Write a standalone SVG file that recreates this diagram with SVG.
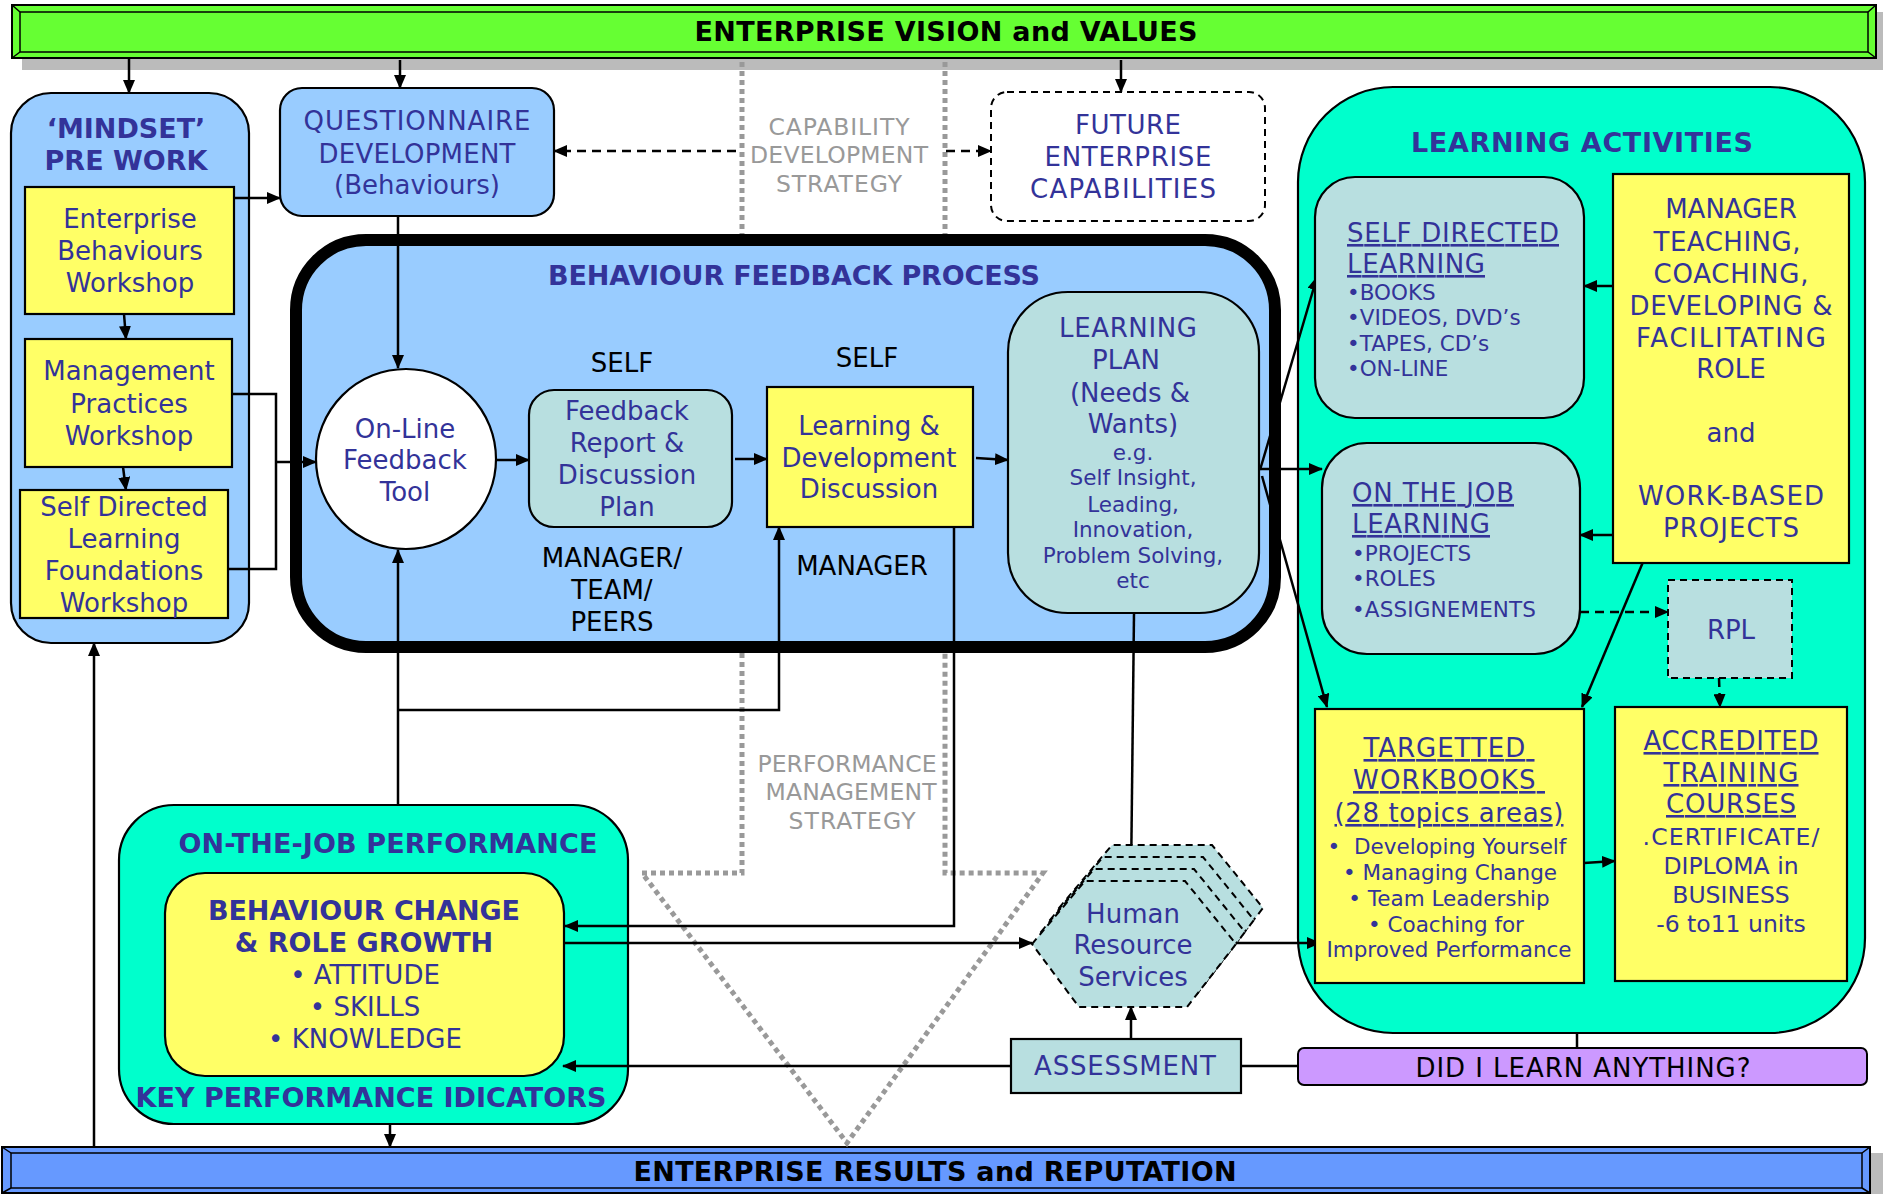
<svg xmlns="http://www.w3.org/2000/svg" width="1883" height="1194" viewBox="0 0 1883 1194">
<style>
text{font-family:"DejaVu Sans",Verdana,sans-serif;font-size:26px;fill:#333399;text-anchor:middle}
.b{font-weight:bold;font-size:27px}
.s{font-size:21.5px}
.m{font-size:23.5px}
.k{fill:#000}
.g{fill:#999;font-size:23.5px}
.l{text-anchor:start}
.u{text-decoration:underline}
.pre{white-space:pre}
.c{stroke:#000;stroke-width:2.5;fill:none}
.d{stroke-dasharray:9 6}
.dot{stroke:#999;stroke-width:5;stroke-dasharray:5 4;fill:none}
.box{stroke:#000;stroke-width:2.2}
.blue{fill:#99CCFF}
.yel{fill:#FFFF66}
.teal{fill:#B8DFE0}
.aqua{fill:#00FFCC}
.bev{fill:none;stroke:#000;stroke-width:1.5}
</style>
<defs>
<marker id="a" viewBox="0 0 14 12" refX="13" refY="6" markerWidth="14" markerHeight="12" orient="auto" markerUnits="userSpaceOnUse"><path d="M0,0L14,6L0,12z"/></marker>
<polygon id="hex" points="1032,944 1085,881 1185,881 1236,944 1187,1007 1079,1007"/>
</defs>
<rect width="1883" height="1194" fill="#fff"/>

<g id="vision-banner">
<rect x="22" y="12" width="1861" height="58" fill="#BBBBBB"/>
<rect x="12" y="5" width="1864" height="53" fill="#66FF33" stroke="#000" stroke-width="2"/>
<rect x="20" y="12" width="1848" height="40" class="bev"/>
<path d="M12,5L20,12M1876,5L1868,12M12,58L20,52M1876,58L1868,52" class="bev"/>
<text x="946" y="41" class="b k" textLength="503">ENTERPRISE VISION and VALUES</text>
</g>

<g id="results-banner">
<rect x="10" y="1153" width="1873" height="41" fill="#BBBBBB"/>
<rect x="2" y="1147" width="1868" height="46" fill="#6699FF" stroke="#000" stroke-width="2"/>
<rect x="11" y="1153" width="1851" height="35" class="bev"/>
<path d="M2,1147L11,1153M1870,1147L1862,1153M2,1193L11,1188M1870,1193L1862,1188" class="bev"/>
<text x="935" y="1181" class="b k" textLength="603">ENTERPRISE RESULTS and REPUTATION</text>
</g>

<g id="capability-strategy">
<path d="M742,62V234M945,62V234" class="dot"/>
<text x="839" y="135" class="g" textLength="141">CAPABILITY</text>
<text x="839" y="163" class="g" textLength="178">DEVELOPMENT</text>
<text x="839" y="192" class="g" textLength="126">STRATEGY</text>
</g>

<g id="performance-strategy">
<path d="M742,653V873H642L847,1143L1043,873H945V653" class="dot"/>
<text x="847" y="772" class="g" textLength="179">PERFORMANCE</text>
<text x="851" y="800" class="g" textLength="171">MANAGEMENT</text>
<text x="852" y="829" class="g" textLength="127">STRATEGY</text>
</g>

<g id="mindset">
<rect x="11" y="93" width="238" height="550" rx="40" class="box blue"/>
<text x="126" y="138" class="b">‘MINDSET’</text>
<text x="126" y="170" class="b">PRE WORK</text>
</g>

<g id="behaviour-feedback-process">
<rect x="296" y="240" width="979" height="407" rx="70" fill="#99CCFF" stroke="#000" stroke-width="12"/>
<text x="548" y="285" class="b l" textLength="492">BEHAVIOUR FEEDBACK PROCESS</text>
<text x="622" y="372" class="k">SELF</text>
<text x="867" y="367" class="k">SELF</text>
<text x="612" y="567" class="k">MANAGER/</text>
<text x="612" y="599" class="k">TEAM/</text>
<text x="612" y="631" class="k">PEERS</text>
<text x="862" y="575" class="k">MANAGER</text>
</g>

<g id="learning-activities">
<rect x="1298" y="87" width="567" height="946" rx="95" class="box aqua"/>
<text x="1582" y="152" class="b" textLength="342">LEARNING ACTIVITIES</text>
</g>

<g id="on-the-job-performance">
<rect x="119" y="805" width="509" height="319" rx="55" class="box aqua"/>
<text x="388" y="853" class="b" textLength="419">ON-THE-JOB PERFORMANCE</text>
<text x="371" y="1107" class="b" textLength="471">KEY PERFORMANCE IDICATORS</text>
</g>

<g id="connectors">
<path d="M129,58V93" class="c" marker-end="url(#a)"/>
<path d="M400,60V88" class="c" marker-end="url(#a)"/>
<path d="M1121,60V92" class="c" marker-end="url(#a)"/>
<path d="M234,198H280" class="c" marker-end="url(#a)"/>
<path d="M124,314L126,339" class="c" marker-end="url(#a)"/>
<path d="M123,467L126,490" class="c" marker-end="url(#a)"/>
<path d="M232,394H276V569H228" class="c" stroke-width="2"/>
<path d="M276,462H316" class="c" marker-end="url(#a)"/>
<path d="M398,216V368" class="c" marker-end="url(#a)"/>
<path d="M496,460H529" class="c" marker-end="url(#a)"/>
<path d="M735,459H767" class="c" marker-end="url(#a)"/>
<path d="M976,458L1008,460" class="c" marker-end="url(#a)"/>
<path d="M398,805V550" class="c" marker-end="url(#a)"/>
<path d="M398,710H779V527" class="c" marker-end="url(#a)"/>
<path d="M954,527V926H565" class="c" marker-end="url(#a)"/>
<path d="M564,943H1032" class="c" marker-end="url(#a)"/>
<path d="M1134,613L1131,881" class="c" marker-end="url(#a)"/>
<path d="M1236,943H1320" class="c" marker-end="url(#a)"/>
<path d="M1131,1039V1007" class="c" marker-end="url(#a)"/>
<path d="M1011,1066H563" class="c" marker-end="url(#a)"/>
<path d="M1241,1066H1298" class="c"/>
<path d="M1577,1033V1048" class="c" stroke-width="2"/>
<path d="M1260,470L1317,277" class="c" marker-end="url(#a)"/>
<path d="M1260,469H1322" class="c" marker-end="url(#a)"/>
<path d="M1262,476L1327,707" class="c" marker-end="url(#a)"/>
<path d="M1613,286H1584" class="c" marker-end="url(#a)"/>
<path d="M1613,535H1580" class="c" marker-end="url(#a)"/>
<path d="M1643,562L1582,707" class="c" marker-end="url(#a)"/>
<path d="M1580,612H1668" class="c d" marker-end="url(#a)"/>
<path d="M1719,678L1720,707" class="c d" marker-end="url(#a)"/>
<path d="M1584,863L1615,861" class="c" marker-end="url(#a)"/>
<path d="M736,151H554" class="c d" marker-end="url(#a)"/>
<path d="M946,151H991" class="c d" marker-end="url(#a)"/>
<path d="M390,1124V1147" class="c" marker-end="url(#a)"/>
<path d="M94,1147V643" class="c" marker-end="url(#a)"/>
</g>

<g id="enterprise-behaviours-workshop">
<rect x="25" y="187" width="209" height="127" class="box yel"/>
<text x="130" y="228">Enterprise</text>
<text x="130" y="260">Behaviours</text>
<text x="130" y="292">Workshop</text>
</g>

<g id="management-practices-workshop">
<rect x="25" y="339" width="207" height="128" class="box yel"/>
<text x="129" y="380">Management</text>
<text x="129" y="413">Practices</text>
<text x="129" y="445">Workshop</text>
</g>

<g id="self-directed-learning-foundations">
<rect x="20" y="490" width="208" height="128" class="box yel"/>
<text x="124" y="516">Self Directed</text>
<text x="124" y="548">Learning</text>
<text x="124" y="580">Foundations</text>
<text x="124" y="612">Workshop</text>
</g>

<g id="questionnaire-development">
<rect x="280" y="88" width="274" height="128" rx="22" class="box blue"/>
<text x="417" y="130" textLength="227">QUESTIONNAIRE</text>
<text x="417" y="163" textLength="197">DEVELOPMENT</text>
<text x="417" y="194">(Behaviours)</text>
</g>

<g id="future-enterprise-capabilities">
<rect x="991" y="92" width="274" height="129" rx="16" fill="#fff" stroke="#000" stroke-width="2" stroke-dasharray="7 5"/>
<text x="1128" y="134" textLength="106">FUTURE</text>
<text x="1128" y="166" textLength="167">ENTERPRISE</text>
<text x="1123" y="198" textLength="186">CAPABILITIES</text>
</g>

<g id="online-feedback-tool">
<circle cx="406" cy="459" r="90" fill="#fff" stroke="#000" stroke-width="2.2"/>
<text x="405" y="438">On-Line</text>
<text x="405" y="469">Feedback</text>
<text x="405" y="501">Tool</text>
</g>

<g id="feedback-report">
<rect x="529" y="390" width="203" height="137" rx="25" class="box teal"/>
<text x="627" y="420">Feedback</text>
<text x="627" y="452">Report &amp;</text>
<text x="627" y="484">Discussion</text>
<text x="627" y="516">Plan</text>
</g>

<g id="learning-development-discussion">
<rect x="767" y="387" width="206" height="140" class="box yel"/>
<text x="869" y="435">Learning &amp;</text>
<text x="869" y="467">Development</text>
<text x="869" y="498">Discussion</text>
</g>

<g id="learning-plan">
<rect x="1008" y="292" width="251" height="321" rx="60" class="box teal"/>
<text x="1128" y="337" textLength="138">LEARNING</text>
<text x="1126" y="369">PLAN</text>
<text x="1130" y="402">(Needs &amp;</text>
<text x="1133" y="433">Wants)</text>
<text x="1133" y="460" class="s">e.g.</text>
<text x="1133" y="485" class="s">Self Insight,</text>
<text x="1133" y="512" class="s">Leading,</text>
<text x="1133" y="537" class="s">Innovation,</text>
<text x="1133" y="563" class="s">Problem Solving,</text>
<text x="1133" y="588" class="s">etc</text>
</g>

<g id="self-directed-learning">
<rect x="1315" y="177" width="269" height="241" rx="40" class="box teal"/>
<text x="1347" y="242" class="l u" textLength="212">SELF DIRECTED</text>
<text x="1347" y="273" class="l u" textLength="138">LEARNING</text>
<text x="1347" y="300" class="l s">•BOOKS</text>
<text x="1347" y="325" class="l s">•VIDEOS, DVD’s</text>
<text x="1347" y="351" class="l s">•TAPES, CD’s</text>
<text x="1347" y="376" class="l s">•ON-LINE</text>
</g>

<g id="on-the-job-learning">
<rect x="1322" y="443" width="258" height="211" rx="45" class="box teal"/>
<text x="1352" y="502" class="l u" textLength="162">ON THE JOB</text>
<text x="1352" y="533" class="l u" textLength="138">LEARNING</text>
<text x="1352" y="561" class="l s">•PROJECTS</text>
<text x="1352" y="586" class="l s">•ROLES</text>
<text x="1352" y="617" class="l s" textLength="184">•ASSIGNEMENTS</text>
</g>

<g id="manager-role">
<rect x="1613" y="174" width="236" height="389" class="box yel"/>
<text x="1731" y="218">MANAGER</text>
<text x="1727" y="251" textLength="147">TEACHING,</text>
<text x="1731" y="283" textLength="155">COACHING,</text>
<text x="1731" y="315" textLength="203">DEVELOPING &amp;</text>
<text x="1731" y="347" textLength="190">FACILITATING</text>
<text x="1731" y="378">ROLE</text>
<text x="1731" y="442">and</text>
<text x="1731" y="505" textLength="186">WORK-BASED</text>
<text x="1731" y="537" textLength="136">PROJECTS</text>
</g>

<g id="rpl">
<rect x="1668" y="580" width="124" height="98" class="teal" stroke="#000" stroke-width="2" stroke-dasharray="7 5"/>
<text x="1731" y="639">RPL</text>
</g>

<g id="targetted-workbooks">
<rect x="1315" y="709" width="269" height="274" class="box yel"/>
<text x="1449" y="757" class="u pre" textLength="171">TARGETTED </text>
<text x="1449" y="789" class="u pre" textLength="192">WORKBOOKS </text>
<text x="1449" y="822" class="u" textLength="229">(28 topics areas)</text>
<text x="1447" y="854" class="s pre">•  Developing Yourself</text>
<text x="1450" y="880" class="s">• Managing Change</text>
<text x="1449" y="906" class="s">• Team Leadership</text>
<text x="1446" y="932" class="s">• Coaching for</text>
<text x="1449" y="957" class="s">Improved Performance</text>
</g>

<g id="accredited-training">
<rect x="1615" y="707" width="232" height="274" class="box yel"/>
<text x="1731" y="750" class="u" textLength="175">ACCREDITED</text>
<text x="1731" y="782" class="u" textLength="135">TRAINING</text>
<text x="1731" y="813" class="u" textLength="130">COURSES</text>
<text x="1731" y="845" class="m" textLength="177">.CERTIFICATE/</text>
<text x="1731" y="874" class="m">DIPLOMA in</text>
<text x="1731" y="903" class="m">BUSINESS</text>
<text x="1731" y="932" class="m">-6 to11 units</text>
</g>

<g id="behaviour-change">
<rect x="165" y="873" width="399" height="203" rx="40" class="box yel"/>
<text x="364" y="920" class="b" textLength="312">BEHAVIOUR CHANGE</text>
<text x="364" y="952" class="b">&amp; ROLE GROWTH</text>
<text x="365" y="984">• ATTITUDE</text>
<text x="365" y="1016">• SKILLS</text>
<text x="365" y="1048">• KNOWLEDGE</text>
</g>

<g id="human-resource-services">
<use href="#hex" transform="translate(27,-36)" class="teal" stroke="#000" stroke-width="2" stroke-dasharray="7 5"/>
<use href="#hex" transform="translate(18,-24)" class="teal" stroke="#000" stroke-width="2" stroke-dasharray="7 5"/>
<use href="#hex" transform="translate(9,-12)" class="teal" stroke="#000" stroke-width="2" stroke-dasharray="7 5"/>
<use href="#hex" class="teal" stroke="#000" stroke-width="2" stroke-dasharray="7 5"/>
<text x="1133" y="923">Human</text>
<text x="1133" y="954">Resource</text>
<text x="1133" y="986">Services</text>
</g>

<g id="assessment">
<rect x="1011" y="1039" width="230" height="54" class="box teal"/>
<text x="1125" y="1075" textLength="182">ASSESSMENT</text>
</g>

<g id="did-i-learn">
<rect x="1298" y="1048" width="569" height="37" rx="6" fill="#CC99FF" stroke="#000" stroke-width="2"/>
<text x="1583" y="1077" class="k" textLength="335">DID I LEARN ANYTHING?</text>
</g>
</svg>
